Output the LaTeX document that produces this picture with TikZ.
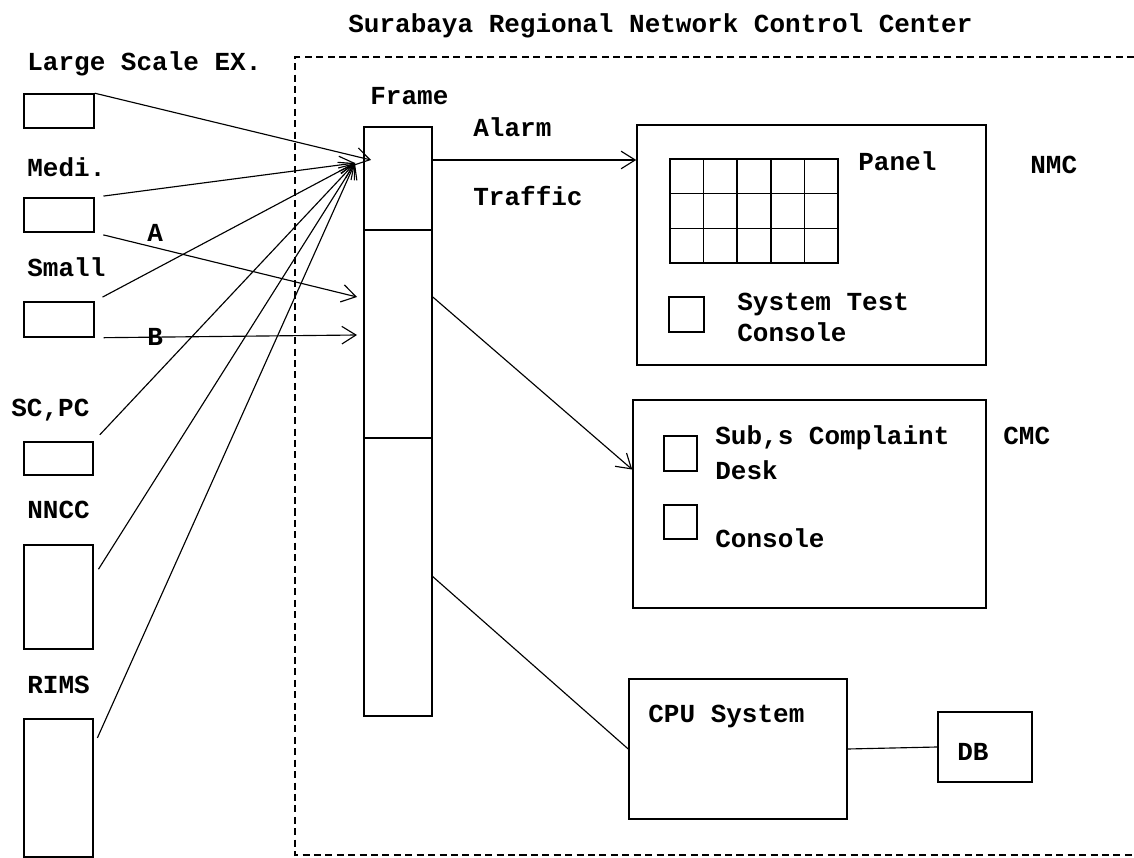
\documentclass[tikz,border=0pt]{standalone}
\usepackage{fontspec}
\setmainfont{Liberation Mono}
\usetikzlibrary{arrows.meta}
\newcommand{\lblfont}{\fontsize{14.8pt}{17pt}\selectfont\bfseries}

\begin{document}
\begin{tikzpicture}[x=0.02cm, y=-0.02cm,
  >={Straight Barb[length=8pt,width=10pt]},
  box/.style={draw, line width=0.9pt, inner sep=0pt},
  cell/.style={draw, line width=0.9pt, minimum width=0.672cm, minimum height=0.693cm, inner sep=0pt},
  lbl/.style={anchor=base west, inner sep=0pt, font=\lblfont},
  link/.style={line width=0.65pt},
  feed/.style={link, ->, shorten <=5pt}]
  \useasboundingbox (0,0) rectangle (1134,858);

  % Regional centre boundary
  \draw[line width=0.75pt, dash pattern=on 4pt off 2.5pt] (1134,57) -| (295,855) -- (1134,855);
  \node[lbl] (title) at (348,33) {Surabaya Regional Network Control Center};

  % Exchanges and outside systems
  \node[lbl] (largeL) at (27,71) {Large Scale EX.};
  \node[box, minimum width=1.4cm, minimum height=0.68cm] (large) at (59,111) {};
  \node[lbl] (mediL) at (27,177) {Medi.};
  \node[box, minimum width=1.4cm, minimum height=0.68cm] (medi) at (59,215) {};
  \node[lbl] (smallL) at (27,277) {Small};
  \node[box, minimum width=1.4cm, minimum height=0.7cm] (small) at (59,319.5) {};
  \node[lbl] (scpcL) at (11,417) {SC,PC};
  \node[box, minimum width=1.38cm, minimum height=0.66cm] (scpc) at (58.5,458.5) {};
  \node[lbl] (nnccL) at (27,519) {NNCC};
  \node[box, minimum width=1.38cm, minimum height=2.08cm] (nncc) at (58.5,597) {};
  \node[lbl] (rimsL) at (27,693) {RIMS};
  \node[box, minimum width=1.38cm, minimum height=2.76cm] (rims) at (58.5,788) {};

  % Frame
  \node[lbl] (frameL) at (370,105) {Frame};
  \node[box, minimum width=1.36cm, minimum height=11.78cm] (frame) at (398,421.5) {};
  \draw[link] (364,230) -- (432,230);
  \draw[link] (364,438) -- (432,438);
  \coordinate (hub) at (355,163);
  \coordinate (hubL) at (371,160);
  \coordinate (inA) at (357,297);
  \coordinate (inB) at (357,335);

  % NMC
  \node[box, minimum width=6.98cm, minimum height=4.8cm] (nmc) at (811.5,245) {};
  \node[lbl] (nmcL) at (1030,174) {NMC};
  \foreach \c in {0,...,4}
    \foreach \r in {0,1,2}
      \node[cell] (cell-\r-\c) at ({686.8+33.6*\c},{176.3+34.7*\r}) {};
  \node[lbl] (panelL) at (858,171) {Panel};
  \node[box, minimum width=0.7cm, minimum height=0.7cm] (stc) at (686.5,314.5) {};
  \node[lbl] (stcL1) at (737,311) {System Test};
  \node[lbl] (stcL2) at (737,342) {Console};

  % CMC
  \node[box, minimum width=7.06cm, minimum height=4.16cm] (cmc) at (809.5,504) {};
  \node[lbl] (cmcL) at (1003,445) {CMC};
  \node[box, minimum width=0.66cm, minimum height=0.7cm] (desk) at (680.5,453.5) {};
  \node[lbl] (deskL1) at (715,445) {Sub,s Complaint};
  \node[lbl] (deskL2) at (715,480) {Desk};
  \node[box, minimum width=0.66cm, minimum height=0.68cm] (cons) at (680.5,522) {};
  \node[lbl] (consL) at (715,548) {Console};

  % CPU and DB
  \node[box, minimum width=4.36cm, minimum height=2.8cm] (cpu) at (738,749) {};
  \node[lbl] (cpuL) at (648,723) {CPU System};
  \node[box, minimum width=1.88cm, minimum height=1.4cm] (db) at (985,747) {};
  \node[lbl] (dbL) at (957,760) {DB};

  % Lines into the frame
  \draw[link, ->] (large.north east) -- (hubL);
  \draw[feed] (medi.north east) -- (hub);
  \draw[feed] (small.north east) -- (hub);
  \draw[feed] (scpc.north east) -- (hub);
  \draw[feed] (nncc.30) -- (hub);
  \draw[feed] (rims.50) -- (hub);
  \draw[feed] (medi.south east) -- (inA);
  \draw[feed] (small.south east) -- (inB);
  \node[lbl] (aL) at (147,242) {A};
  \node[lbl] (bL) at (147,346) {B};
  \node[lbl] (alarmL) at (473,137) {Alarm};
  \node[lbl] (trafficL) at (473,206) {Traffic};

  % Lines out of the frame
  \draw[link, ->] (frame.east |- hubL) -- (nmc.west |- hubL);
  \draw[link, ->] (frame.east |- inA) -- (cmc.169);
  \draw[link] (frame.east |- nncc.30) -- (cpu.west);
  \draw[link] (cpu.east) -- (db.west);
\end{tikzpicture}
\end{document}
